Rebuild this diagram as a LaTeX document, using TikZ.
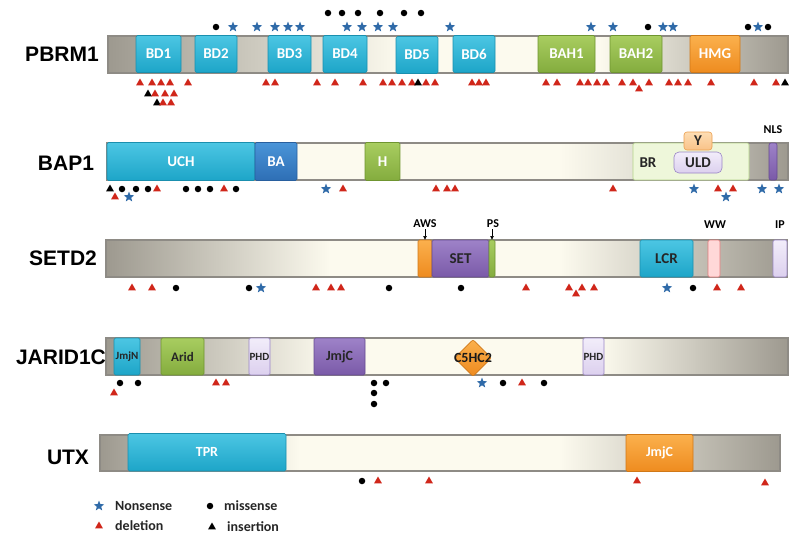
\documentclass[tikz,border=0pt]{standalone}
\usepackage{fontspec}
\setmainfont{Carlito}
\newfontfamily\genefont{Liberation Sans}
\usetikzlibrary{shapes.geometric,arrows.meta}
\definecolor{cyanT}{HTML}{4CC6E3}\definecolor{cyanB}{HTML}{1DA5C8}\definecolor{cyanD}{HTML}{1A8FAE}
\definecolor{blueT}{HTML}{4A94D8}\definecolor{blueB}{HTML}{2E6FB5}\definecolor{blueD}{HTML}{285F9E}
\definecolor{greenT}{HTML}{A8CD60}\definecolor{greenB}{HTML}{84AC3E}\definecolor{greenD}{HTML}{6F9530}
\definecolor{orangeT}{HTML}{FBB04D}\definecolor{orangeB}{HTML}{EE8B1F}\definecolor{orangeD}{HTML}{D07818}
\definecolor{purpT}{HTML}{9E82C8}\definecolor{purpB}{HTML}{7A5AA8}\definecolor{purpD}{HTML}{654A90}
\definecolor{lilacT}{HTML}{F2EDFA}\definecolor{lilacB}{HTML}{DCD0EE}\definecolor{lilacD}{HTML}{9A86C6}
\definecolor{pinkF}{HTML}{FFD8D8}\definecolor{pinkD}{HTML}{E27B7B}
\definecolor{ltorT}{HTML}{FDDDB4}\definecolor{ltorB}{HTML}{F9C288}\definecolor{ltorD}{HTML}{EDA050}
\definecolor{brF}{HTML}{EEF7DA}\definecolor{brD}{HTML}{B5D48A}
\definecolor{starblue}{HTML}{2F6AA8}\definecolor{delred}{HTML}{D0261A}
\definecolor{gA}{HTML}{9D998F}\definecolor{cream}{HTML}{FCFAEE}\definecolor{gL}{HTML}{E3E1D6}\definecolor{gM}{HTML}{B5B2A9}
\definecolor{barline}{HTML}{8E8B85}
\newcommand\dom[7]{\pgfmathsetmacro\dw{#3-#2}\pgfmathsetmacro\dh{#5-#4}%
  \node[#6,minimum width=\dw pt,minimum height=\dh pt,anchor=north west,inner sep=0pt,outer sep=0pt] (#1) at (#2,#4) {#7};}
\newcommand\seg[6]{\fill[left color=#5,right color=#6] (#1,#3) rectangle (#2,#4);}
\newcommand\mk[4]{\foreach \x [count=\i] in {#3} {\node[#2] (#1\i) at (\x,#4) {};}}
\begin{document}
\begin{tikzpicture}[x=1pt,y=-1pt,
  box/.style={rounded corners=1.5pt,line width=0.6pt,font=\bfseries\fontsize{15}{15}\selectfont},
  cyanbox/.style={box,top color=cyanT,bottom color=cyanB,draw=cyanD,text=white},
  bluebox/.style={box,top color=blueT,bottom color=blueB,draw=blueD,text=white},
  greenbox/.style={box,top color=greenT,bottom color=greenB,draw=greenD,text=white},
  orangebox/.style={box,top color=orangeT,bottom color=orangeB,draw=orangeD,text=white},
  purpbox/.style={box,top color=purpT,bottom color=purpB,draw=purpD,text=black!85},
  lilacbox/.style={box,top color=lilacT,bottom color=lilacB,draw=lilacD,text=black!85},
  darktext/.style={text=black!85},
  bar/.style={draw=barline,line width=1.1pt},
  gene/.style={font=\genefont\bfseries\fontsize{21}{21}\selectfont,text=black},
  tag/.style={font=\bfseries\fontsize{12}{12}\selectfont,text=black,inner sep=1pt},
  legtext/.style={font=\bfseries\fontsize{14}{14}\selectfont,text=black!85,anchor=west,inner sep=0pt},
  mstar/.style={star,star points=5,star point ratio=2.4,minimum size=11pt,inner sep=0pt,fill=starblue},
  mdel/.style={regular polygon,regular polygon sides=3,minimum size=9pt,inner sep=0pt,fill=delred},
  mins/.style={regular polygon,regular polygon sides=3,minimum size=9pt,inner sep=0pt,fill=black},
  mmis/.style={circle,minimum size=6.5pt,inner sep=0pt,fill=black}]
\fill[white] (0,0) rectangle (800,542);
\useasboundingbox (0,0) rectangle (800,542);

% ---------------- PBRM1
\node[gene] (lpbrm) at (62,54) {PBRM1};
\seg{108}{400}{36}{73}{gA}{cream}\seg{400}{600}{36}{73}{cream}{cream}\seg{600}{788}{36}{73}{cream}{gA}
\dom{pbar}{108}{788}{36}{73}{bar}{}
\dom{bd1}{136}{181}{35.5}{72.5}{cyanbox}{BD1}
\dom{bd2}{195}{237}{35.5}{72.5}{cyanbox}{BD2}
\dom{bd3}{268}{311}{35.5}{72.5}{cyanbox}{BD3}
\dom{bd4}{323}{367}{35.5}{72.5}{cyanbox}{BD4}
\dom{bd5}{396}{438}{36.5}{73.5}{cyanbox}{BD5}
\dom{bd6}{453}{495}{35.5}{72.5}{cyanbox}{BD6}
\dom{bah1}{538}{595}{35.5}{72.5}{greenbox}{BAH1}
\dom{bah2}{610}{662}{35.5}{72.5}{greenbox}{BAH2}
\dom{hmg}{690}{740}{35.5}{72.5}{orangebox}{HMG}
\mk{pta}{mmis}{328,342,358,380,404,421}{13}
\mk{ptb}{mmis}{216,648,748,768}{27}
\mk{ptc}{mstar}{233,257,275,288,300,347,362,378,393,450,591,613,663,673,758}{27}
\mk{pba}{mdel}{140,152,161,170,188,266,275,317,335,363,383,392,402,412,426,435,472,479,486,546,557,580,588,597,606,622,633,649,669,678,688,711,754,776}{83}
\mk{pbb}{mins}{418,785}{83}
\mk{pbc}{mdel}{639}{89}
\mk{pbd}{mins}{148}{94}
\mk{pbe}{mdel}{155,165,174}{94}
\mk{pbf}{mins}{157}{103}
\mk{pbg}{mdel}{163,171}{103}

% ---------------- BAP1
\node[gene] (lbap) at (66,163) {BAP1};
\seg{297}{560}{143}{180}{cream}{cream}\seg{560}{640}{143}{180}{cream}{gL}\seg{740}{788}{143}{180}{gM}{gA}
\dom{bbar}{107}{788}{143}{180}{bar}{}
\dom{uch}{107}{255}{142.5}{180.5}{cyanbox}{UCH}
\dom{ba}{255}{297}{142.5}{180.5}{bluebox}{BA}
\dom{hdom}{365}{400}{142.5}{180.5}{greenbox}{H}
\dom{br}{633}{749}{143}{180}{box,fill=brF,draw=brD,darktext}{}
\node[font=\bfseries\fontsize{15}{15}\selectfont,darktext] (lbr) at (648,163) {BR};
\dom{ydom}{684}{712}{132}{150}{box,rounded corners=3pt,top color=ltorT,bottom color=ltorB,draw=ltorD,darktext}{Y}
\dom{uld}{674}{722}{152}{173}{lilacbox,rounded corners=5pt}{ULD}
\dom{nls}{769}{777}{143}{180}{box,rounded corners=2pt,top color=purpT,bottom color=purpB,draw=purpD}{}
\node[tag] (lnls) at (773,130) {NLS};
\mk{bma}{mins}{110}{189}
\mk{bmb}{mmis}{122,136,148,186,198,210,236}{189}
\mk{bmc}{mdel}{157,224,343,436,447,455,613,718,733}{189}
\mk{bmd}{mstar}{326,694,762,779}{189}
\mk{bme}{mdel}{115}{197}
\mk{bmf}{mstar}{129,726}{197}

% ---------------- SETD2
\node[gene] (lsetd) at (63,258) {SETD2};
\seg{106}{330}{240}{277}{gA}{cream}\seg{330}{560}{240}{277}{cream}{cream}\seg{560}{787}{240}{277}{cream}{gA}
\dom{sbar}{106}{787}{240}{277}{bar}{}
\dom{aws}{418}{432}{240}{277}{orangebox}{}
\dom{set}{432}{489}{240}{277}{purpbox}{SET}
\dom{ps}{489}{495}{240}{277}{greenbox}{}
\dom{lcr}{640}{693}{240}{277}{cyanbox,text=black!85}{LCR}
\dom{ww}{708}{720}{240}{277}{box,fill=pinkF,draw=pinkD}{}
\dom{ip}{773}{787}{240}{277}{lilacbox}{}
\node[tag] (laws) at (425,224) {AWS};
\node[tag] (lps) at (493,224) {PS};
\node[tag] (lww) at (715,225) {WW};
\node[tag] (lip) at (780,225) {IP};
\draw[-{Latex[length=4pt,width=4pt]},line width=0.7pt] (laws.south) -- (aws.north);
\draw[-{Latex[length=4pt,width=4pt]},line width=0.7pt] (lps.south -| ps.north) -- (ps.north);
\mk{sma}{mdel}{132,152,316,331,341,526,569,582,594,717,741}{288}
\mk{smb}{mmis}{176,249,389,461,693}{288}
\mk{smc}{mstar}{261,667}{288}
\mk{smd}{mdel}{576}{294}

% ---------------- JARID1C
\node[gene] (ljar) at (61,357) {JARID1C};
\seg{106}{330}{338}{375}{gA}{cream}\seg{330}{600}{338}{375}{cream}{cream}\seg{600}{788}{338}{375}{cream}{gA}
\dom{jbar}{106}{788}{338}{375}{bar}{}
\dom{jmjn}{114}{140}{338}{375}{cyanbox,text=black!85,font=\bfseries\fontsize{11}{11}\selectfont}{JmjN}
\dom{arid}{161}{204}{338}{375}{greenbox,text=black!85,font=\bfseries\fontsize{13}{13}\selectfont}{Arid}
\dom{phda}{249}{270}{338}{375}{lilacbox,font=\bfseries\fontsize{11}{11}\selectfont}{PHD}
\dom{jmjc}{314}{365}{338}{375}{purpbox,font=\bfseries\fontsize{14}{14}\selectfont}{JmjC}
\dom{phdb}{583}{604}{338}{375}{lilacbox,font=\bfseries\fontsize{11}{11}\selectfont}{PHD}
\node[diamond,minimum width=37pt,minimum height=37pt,inner sep=0pt,rounded corners=2pt,top color=orangeT,bottom color=orangeB,draw=orangeD,line width=0.6pt,
  label={[font=\bfseries\fontsize{14}{14}\selectfont,text=black!90]center:C5HC2}] (c5hc2) at (473,358) {};
\mk{jma}{mmis}{120,138,374,386,503,544}{383}
\mk{jmb}{mdel}{216,226,522}{383}
\mk{jmc}{mstar}{482}{383}
\mk{jmd}{mdel}{114}{393}
\mk{jme}{mmis}{374}{393}
\mk{jmf}{mmis}{374}{404}

% ---------------- UTX
\node[gene] (lutx) at (68,457) {UTX};
\seg{100}{300}{435}{471}{gA}{cream}\seg{300}{560}{435}{471}{cream}{cream}\seg{560}{780}{435}{471}{cream}{gA}
\dom{ubar}{100}{780}{435}{471}{bar}{}
\dom{tpr}{128}{286}{433.5}{471}{cyanbox,font=\bfseries\fontsize{14}{14}\selectfont}{TPR}
\dom{ujmjc}{626}{693}{434.5}{471.5}{orangebox,font=\bfseries\fontsize{14}{14}\selectfont}{JmjC}
\mk{uma}{mmis}{362}{481}
\mk{umb}{mdel}{378,429,637}{481}
\mk{umc}{mdel}{765}{483}

% ---------------- legend
\node[mstar] (lgs) at (99,506) {};
\node[legtext] (lgst) at (115,506) {Nonsense};
\node[mmis] (lgm) at (210,506) {};
\node[legtext] (lgmt) at (224,506) {missense};
\node[mdel] (lgd) at (99,526) {};
\node[legtext] (lgdt) at (115,526) {deletion};
\node[mins] (lgi) at (212,527) {};
\node[legtext] (lgit) at (227,527) {insertion};
\end{tikzpicture}
\end{document}
